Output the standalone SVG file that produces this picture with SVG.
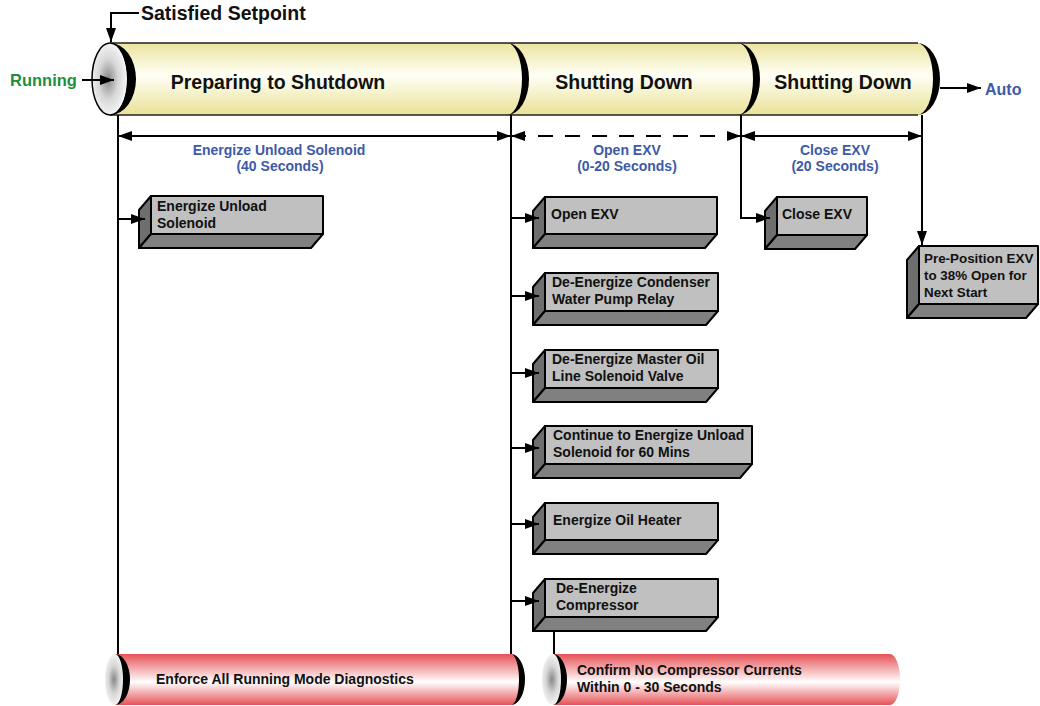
<svg xmlns="http://www.w3.org/2000/svg" width="1040" height="706" viewBox="0 0 1040 706">
<defs>
<style>
text{font-family:"Liberation Sans",Arial,sans-serif;font-weight:bold}
.title{font-size:19.5px;fill:#111}
.lbl{font-size:14px;fill:#3d5aa8;text-anchor:middle}
.bt{font-size:14px;fill:#111}
.bts{font-size:13.4px;fill:#111}
.ct{font-size:14px;fill:#111}
.front{fill:#c0c0c0;stroke:#000;stroke-width:2;stroke-linejoin:round}
.side{fill:#6e6e6e;stroke:#000;stroke-width:2;stroke-linejoin:round}
.bot{fill:#808080;stroke:#000;stroke-width:2;stroke-linejoin:round}
.ln{fill:none;stroke:#000;stroke-width:2}
.crescent{fill:#000}
</style>
<linearGradient id="yel" x1="0" y1="0" x2="0" y2="1">
<stop offset="0" stop-color="#ebe49e"/>
<stop offset="0.45" stop-color="#fffff6"/>
<stop offset="1" stop-color="#e9e196"/>
</linearGradient>
<linearGradient id="red" x1="0" y1="0" x2="0" y2="1">
<stop offset="0" stop-color="#e65256"/>
<stop offset="0.55" stop-color="#ffffff"/>
<stop offset="1" stop-color="#e65256"/>
</linearGradient>
<radialGradient id="face" cx="0.45" cy="0.5" r="0.55">
<stop offset="0" stop-color="#888888"/>
<stop offset="0.5" stop-color="#d6d6d6"/>
<stop offset="1" stop-color="#fafafa"/>
</radialGradient>
<marker id="ah" markerUnits="userSpaceOnUse" markerWidth="14" markerHeight="10" refX="14" refY="5" orient="auto-start-reverse" viewBox="0 0 14 10">
<path d="M0,0 L14,5 L0,10 z" fill="#000"/>
</marker>
</defs>
<rect width="1040" height="706" fill="#fff"/>

<g id="timeline">
<rect x="110" y="43" width="808" height="72" fill="url(#yel)"/>
<path d="M918,43 A22,36 0 0 1 918,115 Z" fill="url(#yel)"/>
<path d="M110,43 H918 M110,115 H918" stroke="#222" stroke-width="1.3" fill="none"/>
<ellipse cx="110" cy="79" rx="18" ry="36" fill="url(#face)" stroke="#000" stroke-width="1.5"/>
<path class="crescent" d="M110,43 A26,36 0 0 1 110,115 A17,36 0 0 0 110,43 Z"/>
<path class="crescent" d="M507,43 A22,36 0 0 1 507,115 A15,36 0 0 0 507,43 Z"/>
<path class="crescent" d="M738,43 A22,36 0 0 1 738,115 A15,36 0 0 0 738,43 Z"/>
<path class="crescent" d="M917,43 A23,36 0 0 1 917,115 A16,36 0 0 0 917,43 Z"/>
<g id="sec-preparing"><text class="title" x="278" y="89" text-anchor="middle">Preparing to Shutdown</text></g>
<g id="sec-shutting1"><text class="title" x="624" y="89" text-anchor="middle">Shutting Down</text></g>
<g id="sec-shutting2"><text class="title" x="843" y="89" text-anchor="middle">Shutting Down</text></g>
</g>

<g id="state-labels">
<text x="141" y="20" style="font-size:19.5px;fill:#111">Satisfied Setpoint</text>
<text x="10" y="86" style="font-size:16.5px;fill:#1e8f3e">Running</text>
<text x="985" y="95" style="font-size:16px;fill:#3d5aa8">Auto</text>
</g>

<g id="phase-labels">
<text class="lbl" x="279" y="155">Energize Unload Solenoid</text>
<text class="lbl" x="280" y="171">(40 Seconds)</text>
<text class="lbl" x="627" y="155">Open EXV</text>
<text class="lbl" x="627" y="171">(0-20 Seconds)</text>
<text class="lbl" x="835" y="155">Close EXV</text>
<text class="lbl" x="835" y="171">(20 Seconds)</text>
</g>

<g id="box-energize-unload">
<rect class="front" x="151" y="196" width="172" height="38"/>
<polygon class="side" points="151,196 139,210 139,248 151,234"/>
<polygon class="bot" points="151,234 139,248 311,248 323,234"/>
<text class="bt" x="157" y="211">Energize Unload</text>
<text class="bt" x="157" y="228">Solenoid</text>
</g>
<g id="box-open-exv">
<rect class="front" x="545" y="197" width="172" height="37"/>
<polygon class="side" points="545,197 533,211 533,248 545,234"/>
<polygon class="bot" points="545,234 533,248 705,248 717,234"/>
<text class="bt" x="551" y="219">Open EXV</text>
</g>
<g id="box-condenser">
<rect class="front" x="545" y="273" width="173" height="38"/>
<polygon class="side" points="545,273 533,287 533,325 545,311"/>
<polygon class="bot" points="545,311 533,325 706,325 718,311"/>
<text class="bt" x="552" y="287">De-Energize Condenser</text>
<text class="bt" x="552" y="304">Water Pump Relay</text>
</g>
<g id="box-master-oil">
<rect class="front" x="545" y="350" width="173" height="38"/>
<polygon class="side" points="545,350 533,364 533,402 545,388"/>
<polygon class="bot" points="545,388 533,402 706,402 718,388"/>
<text class="bt" x="552" y="364">De-Energize Master Oil</text>
<text class="bt" x="552" y="381">Line Solenoid Valve</text>
</g>
<g id="box-continue">
<rect class="front" x="545" y="426" width="207" height="38"/>
<polygon class="side" points="545,426 533,440 533,478 545,464"/>
<polygon class="bot" points="545,464 533,478 740,478 752,464"/>
<text class="bt" x="553" y="440">Continue to Energize Unload</text>
<text class="bt" x="553" y="457">Solenoid for 60 Mins</text>
</g>
<g id="box-oil-heater">
<rect class="front" x="545" y="503" width="173" height="37"/>
<polygon class="side" points="545,503 533,517 533,554 545,540"/>
<polygon class="bot" points="545,540 533,554 706,554 718,540"/>
<text class="bt" x="553" y="525">Energize Oil Heater</text>
</g>
<g id="box-compressor">
<rect class="front" x="545" y="579" width="173" height="38"/>
<polygon class="side" points="545,579 533,593 533,631 545,617"/>
<polygon class="bot" points="545,617 533,631 706,631 718,617"/>
<text class="bt" x="556" y="593">De-Energize</text>
<text class="bt" x="556" y="610">Compressor</text>
</g>
<g id="box-close-exv">
<rect class="front" x="777" y="197" width="90" height="38"/>
<polygon class="side" points="777,197 765,211 765,249 777,235"/>
<polygon class="bot" points="777,235 765,249 855,249 867,235"/>
<text class="bt" x="782" y="219">Close EXV</text>
</g>
<g id="box-preposition">
<rect class="front" x="919" y="246" width="119" height="58"/>
<polygon class="side" points="919,246 907,260 907,318 919,304"/>
<polygon class="bot" points="919,304 907,318 1026,318 1038,304"/>
<text class="bts" x="924" y="263">Pre-Position EXV</text>
<text class="bts" x="924" y="280">to 38% Open for</text>
<text class="bts" x="924" y="297">Next Start</text>
</g>

<g id="bar-diagnostics">
<rect x="115" y="654" width="396" height="51" fill="url(#red)"/>
<path d="M511,654 A14,25.5 0 0 1 511,705 Z" fill="url(#red)"/>
<ellipse cx="115" cy="679.5" rx="10" ry="25.5" fill="url(#face)"/>
<path class="crescent" d="M115,654 A15,25.5 0 0 1 115,705 A8,25.5 0 0 0 115,654 Z"/>
<path class="crescent" d="M511,654 A14,25.5 0 0 1 511,705 A8,25.5 0 0 0 511,654 Z"/>
<text class="ct" x="156" y="684">Enforce All Running Mode Diagnostics</text>
</g>
<g id="bar-confirm">
<rect x="553" y="654" width="337" height="51" fill="url(#red)"/>
<path d="M890,654 A10,25.5 0 0 1 890,705 Z" fill="url(#red)"/>
<ellipse cx="553" cy="679.5" rx="11" ry="25.5" fill="url(#face)"/>
<path class="crescent" d="M553,654 A14,25.5 0 0 1 553,705 A8,25.5 0 0 0 553,654 Z"/>
<text class="ct" x="577" y="675">Confirm No Compressor Currents</text>
<text class="ct" x="577" y="692">Within 0 - 30 Seconds</text>
</g>

<g id="connectors">
<path class="ln" d="M139,13 H111 V42" marker-end="url(#ah)"/>
<path class="ln" d="M82,80 H114" marker-end="url(#ah)"/>
<path class="ln" d="M940,88 H981" marker-end="url(#ah)"/>
<path class="ln" d="M118,136 H511" marker-start="url(#ah)" marker-end="url(#ah)"/>
<path class="ln" d="M511,136 H741" stroke-dasharray="15 12" marker-start="url(#ah)" marker-end="url(#ah)"/>
<path class="ln" d="M741,136 H922" marker-start="url(#ah)" marker-end="url(#ah)"/>
<path class="ln" d="M118,115 V654"/>
<path class="ln" d="M511,115 V654"/>
<path class="ln" d="M741,115 V218 H770" marker-end="url(#ah)"/>
<path class="ln" d="M922,115 V245" marker-end="url(#ah)"/>
<path class="ln" d="M118,219 H145" marker-end="url(#ah)"/>
<path class="ln" d="M511,218 H539" marker-end="url(#ah)"/>
<path class="ln" d="M511,296 H539" marker-end="url(#ah)"/>
<path class="ln" d="M511,373 H539" marker-end="url(#ah)"/>
<path class="ln" d="M511,448 H539" marker-end="url(#ah)"/>
<path class="ln" d="M511,524 H539" marker-end="url(#ah)"/>
<path class="ln" d="M511,601 H539" marker-end="url(#ah)"/>
<path class="ln" d="M554,631 V654"/>
</g>
</svg>
